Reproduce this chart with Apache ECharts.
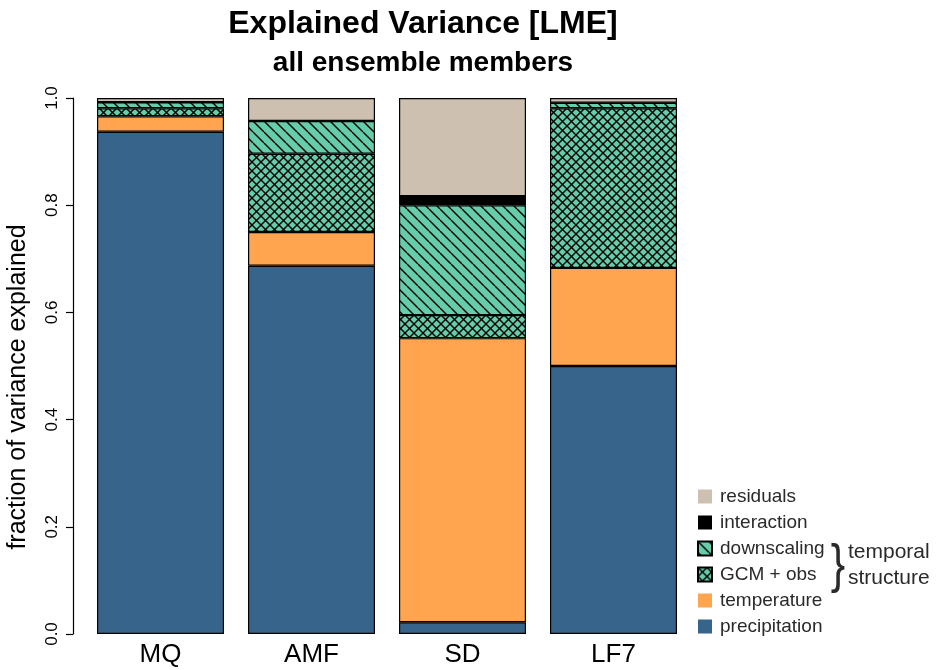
<!DOCTYPE html>
<html>
<head>
<meta charset="utf-8">
<script src="https://cdn.jsdelivr.net/npm/echarts@6/dist/echarts.min.js"></script>
<style>html,body{margin:0;padding:0;background:#fff}#c{width:938px;height:670px}</style>
</head>
<body>
<div id="c"></div>
<script>
var categories = ['MQ', 'AMF', 'SD', 'LF7'];
var precipitation = [0.937, 0.687, 0.022, 0.500];
var temperature   = [0.029, 0.063, 0.530, 0.183];
var gcmObs        = [0.015, 0.146, 0.043, 0.298];
var downscaling   = [0.011, 0.061, 0.205, 0.010];
var interaction   = [0, 0, 0.017, 0];
var residuals     = [0.008, 0.043, 0.183, 0.009];
var yTicks = [0, 0.2, 0.4, 0.6, 0.8, 1.0];

var GREEN = '#66CDAA';
function makePattern(cross, s) {
  var c = document.createElement('canvas');
  c.width = s; c.height = s;
  var ctx = c.getContext('2d');
  ctx.fillStyle = GREEN; ctx.fillRect(0, 0, s, s);
  ctx.strokeStyle = '#000'; ctx.lineWidth = 1.4;
  for (var k = -s; k <= s; k += s) {
    ctx.beginPath(); ctx.moveTo(k, 0); ctx.lineTo(k + s, s); ctx.stroke();
    if (cross) { ctx.beginPath(); ctx.moveTo(k + s, 0); ctx.lineTo(k, s); ctx.stroke(); }
  }
  return { image: c, repeat: 'repeat' };
}
var diagPat = makePattern(false, 11);
var crossPat = makePattern(true, 9);

function ser(name, data, color) {
  return {
    name: name, type: 'bar', stack: 'v', data: data, barWidth: 127,
    itemStyle: { color: color, borderColor: '#000', borderWidth: 1.2 },
    emphasis: { disabled: true }
  };
}
var noBorder = { borderWidth: 0 };

var chart = echarts.init(document.getElementById('c'), null, { renderer: 'canvas' });
chart.setOption({
  animation: false,
  backgroundColor: '#fff',
  textStyle: { fontFamily: 'Liberation Sans, Arial, sans-serif' },
  title: [
    { text: 'Explained Variance [LME]', left: 418, top: 3, textAlign: 'center',
      textStyle: { fontSize: 32, fontWeight: 'bold', color: '#000' } },
    { text: 'all ensemble members', left: 418, top: 44, textAlign: 'center',
      textStyle: { fontSize: 28, fontWeight: 'bold', color: '#000' } }
  ],
  grid: { left: 85, right: 938 - 689, top: 98, bottom: 36, containLabel: false },
  xAxis: {
    type: 'category', data: categories,
    axisLine: { show: false }, axisTick: { show: false },
    axisLabel: { fontSize: 26, color: '#000', margin: 8 }
  },
  yAxis: {
    type: 'value', min: 0, max: 1, interval: 0.2, offset: 12,
    axisLine: { show: true, lineStyle: { color: '#000', width: 1.2 } },
    axisTick: { show: true, length: 7, lineStyle: { color: '#000', width: 1.2 } },
    axisLabel: { rotate: 90, fontSize: 17, color: '#000', margin: 12,
      formatter: function (v) { return v.toFixed(1); } },
    splitLine: { show: false }
  },
  legend: {
    orient: 'vertical', left: 692, top: 482, itemWidth: 14, itemHeight: 14, itemGap: 7,
    icon: 'rect',
    data: [
      { name: 'residuals', itemStyle: noBorder },
      { name: 'interaction', itemStyle: noBorder },
      'downscaling', 'GCM + obs',
      { name: 'temperature', itemStyle: noBorder },
      { name: 'precipitation', itemStyle: noBorder }
    ],
    textStyle: { fontSize: 19, color: '#2a2a2a', padding: [0, 0, 0, 3] },
    selectedMode: false
  },
  graphic: [
    { type: 'text', x: 18, y: 387, rotation: Math.PI / 2,
      style: { text: 'fraction of variance explained', fontSize: 25, fill: '#000',
        fontFamily: 'Liberation Sans', textAlign: 'center', textVerticalAlign: 'middle' } },
    { type: 'text', x: 838, y: 567, scaleX: 0.8,
      style: { text: '}', fontSize: 54, fill: '#2a2a2a', fontFamily: 'Liberation Sans',
        textAlign: 'center', textVerticalAlign: 'middle' } },
    { type: 'text', left: 848, top: 542, style: { text: 'temporal', fontSize: 21, fill: '#2a2a2a', fontFamily: 'Liberation Sans' } },
    { type: 'text', left: 848, top: 568, style: { text: 'structure', fontSize: 21, fill: '#2a2a2a', fontFamily: 'Liberation Sans' } }
  ],
  series: [
    ser('precipitation', precipitation, '#36648B'),
    ser('temperature', temperature, '#FFA54F'),
    ser('GCM + obs', gcmObs, crossPat),
    ser('downscaling', downscaling, diagPat),
    ser('interaction', interaction, '#000'),
    ser('residuals', residuals, '#CDC0B0')
  ]
});
</script>
</body>
</html>
